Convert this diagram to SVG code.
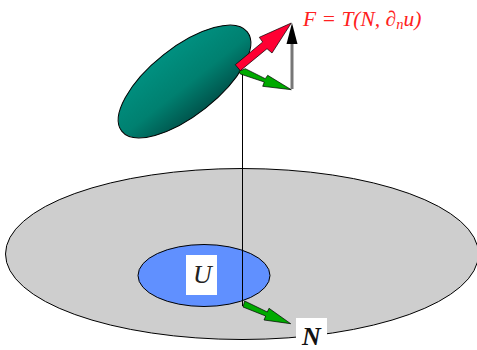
<svg xmlns="http://www.w3.org/2000/svg" width="477" height="350" viewBox="0 0 477 350">
<style>
.o{stroke:#000;stroke-width:1}
.g{fill:#00aa00;stroke:#000;stroke-width:.7;stroke-linejoin:miter}
.lb{fill:#fff}
.t{font-family:"Liberation Serif",serif;font-style:italic}
</style>
<defs>
<linearGradient id="teal" gradientUnits="userSpaceOnUse" x1="184.500" y1="48" x2="184.500" y2="116">
<stop offset="0" stop-color="#009080"/><stop offset="0.55" stop-color="#008070"/><stop offset="1" stop-color="#00544c"/>
</linearGradient>
</defs>
<g id="plane"><ellipse cx="242" cy="254" rx="236.500" ry="85.500" fill="#cecece" class="o"/></g>
<g id="domain"><ellipse cx="204" cy="275.500" rx="66" ry="31" fill="#6090ff" class="o"/></g>
<g id="disc"><ellipse cx="184.500" cy="81.500" rx="80" ry="34" transform="rotate(-38.300 184.500 81.500)" fill="url(#teal)" class="o"/></g>
<g id="connectors">
<line x1="242.500" y1="71" x2="242.500" y2="306" stroke="#000" stroke-width="1"/>
<polygon id="normal-lower" class="g" points="244.700,301 267.300,312 269,308.300 290.700,323.700 264,320 265.700,316 243,307"/>
<polygon id="normal-upper" class="g" points="245.300,68.700 265.300,78.700 267.700,75.300 291.300,89.700 262.700,86.300 264.300,82 240.300,74 239,71.300"/>
<line id="stem" x1="292" y1="44" x2="292" y2="89" stroke="#777" stroke-width="3"/>
<polygon id="black-head" points="292,23 297.500,44 286.500,44" fill="#000"/>
<polygon id="force" points="235.300,64.700 262.700,42 259.300,37.300 291.300,23 272,53 267,48.700 240.300,70.700" fill="#ff0033" stroke="#000" stroke-width=".7"/>
</g>
<g id="label-U"><rect class="lb" x="186" y="255" width="31" height="40"/><text class="t" x="193" y="283" font-size="26" fill="#222">U</text></g>
<g id="label-N"><rect class="lb" x="296" y="318" width="31" height="32"/><text class="t" x="302" y="345" font-size="26" font-weight="bold" fill="#111">N</text></g>
<g id="label-F"><text class="t" x="303" y="26" font-size="21.500" fill="#ff2020">F = T(N, ∂<tspan font-size="14.500" dy="3">n</tspan><tspan dy="-3">u)</tspan></text></g>
</svg>
